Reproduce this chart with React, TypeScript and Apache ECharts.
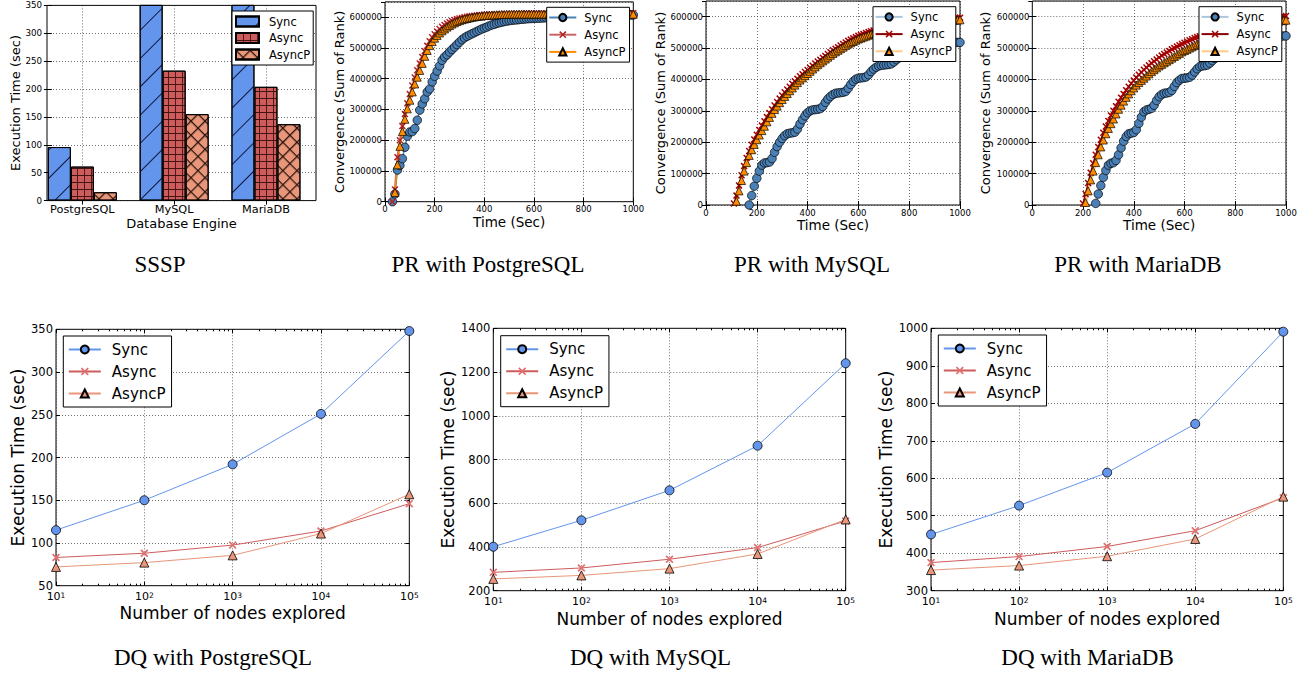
import React, { useEffect, useRef } from 'react';
import * as echarts from 'echarts';

const FONT = '"DejaVu Sans", sans-serif';
const SERIF = '"Liberation Serif", "Times New Roman", serif';

// ---------------- SSSP (bar chart) ----------------
const ssspCategories = ['PostgreSQL', 'MySQL', 'MariaDB'];
const ssspSync = [96, 425, 385];
const ssspAsync = [61, 233, 204];
const ssspAsyncP = [15, 155, 137];

// ---------------- PR convergence (time in sec, sum of rank) ----------------
const prTime = [
  0, 10, 20, 30, 40, 50, 60, 70, 80, 90,
  100, 110, 120, 130, 140, 150, 160, 170, 180, 190,
  200, 210, 220, 230, 240, 250, 260, 270, 280, 290,
  300, 310, 320, 330, 340, 350, 360, 370, 380, 390,
  400, 410, 420, 430, 440, 450, 460, 470, 480, 490,
  500, 510, 520, 530, 540, 550, 560, 570, 580, 590,
  600, 610, 620, 630, 640, 650, 660, 670, 680, 690,
  700, 710, 720, 730, 740, 750, 760, 770, 780, 790,
  800, 810, 820, 830, 840, 850, 860, 870, 880, 890,
  900, 910, 920, 930, 940, 950, 960, 970, 980, 990,
  1000,
];

const prPgSync = [
  null, null, null, 0, 25000, 103000, 118000, 140000, 177000, 213000,
  227000, 228000, 238000, 265000, 298000, 318000, 335000, 357000, 367000, 390000,
  408000, 425000, 442000, 460000, 471000, 478000, 487000, 495000, 503000, 511000,
  519000, 527000, 533000, 538000, 542000, 546000, 550000, 554000, 558000, 562000,
  565000, 568000, 572000, 575000, 577000, 580000, 582000, 584000, 586000, 587500,
  589000, 590000, 591000, 591500, 592500, 593500, 594000, 595000, 595500, 596000,
  596500, 597000, 597000, 597500, 598000, 598500, 599000, 599000, 599500, 600000,
  600000, 600500, 601000, 601500, 602000, 602000, 602500, 603000, 603000, 603500,
  603500, 604000, 604000, 604500, 604500, 605000, 605000, 605500, 605500, 606000,
  606000, 606000, 606500, 606500, 607000, 607000, 607000, 607500, 607500, 607500,
  607500,
];
const prPgAsync = [
  null, null, null, 0, 40000, 145000, 200000, 246000, 285000, 320000,
  350000, 378000, 404000, 428000, 450000, 471000, 490000, 507000, 522000, 535000,
  545000, 554000, 562000, 569000, 575000, 580000, 584000, 588000, 591000, 594000,
  596000, 598000, 600000, 601500, 603000, 604000, 605000, 606000, 607000, 607500,
  608000, 608500, 609000, 609000, 609500, 609500, 610000, 610000, 610500, 610500,
  611000, 611000, 611000, 611500, 611500, 611500, 612000, 612000, 612000, 612000,
  612000, 612500, 612500, 612500, 612500, 612500, 612500, 613000, 613000, 613000,
  613000, 613000, 613000, 613000, 613000, 613000, 613000, 613000, 613000, 613000,
  613000, 613000, 613000, 613000, 613000, 613000, 613000, 613000, 613000, 613000,
  613000, 613000, 613000, 613000, 613000, 613000, 613000, 613000, 613000, 613000,
  613000,
];
const prPgAsyncP = [
  null, null, null, null, 30000, 120000, 180000, 228000, 268000, 302000,
  330000, 357000, 383000, 405000, 427000, 450000, 473000, 492000, 508000, 521000,
  532000, 541000, 549000, 556000, 562000, 568000, 573000, 578000, 582000, 586000,
  589000, 592000, 594000, 596000, 598000, 600000, 601000, 602500, 603500, 604500,
  605500, 606000, 606500, 607000, 607500, 608000, 608500, 609000, 609000, 609500,
  609500, 610000, 610000, 610000, 610000, 610000, 610000, 610000, 610000, 610000,
  610000, 610000, 610000, 610000, 610000, 610000, 610000, 610000, 610000, 610000,
  610000, 610000, 610000, 610000, 610000, 610000, 610000, 610000, 610000, 610000,
  610000, 610000, 610000, 610000, 610000, 610000, 610000, 610000, 610000, 610000,
  610000, 610000, 610000, 610000, 610000, 610000, 610000, 610000, 610000, 610000,
  610000,
];

const prMySync = [
  null, null, null, null, null, null, null, null, null, null,
  null, null, null, null, null, null, null, 0, 30000, 60000,
  85000, 108000, 127000, 134000, 135000, 137000, 148000, 168000, 186000, 200000,
  212000, 221000, 227000, 229000, 230000, 232000, 242000, 258000, 272000, 284000,
  294000, 300000, 303000, 304000, 305000, 307000, 314000, 327000, 338000, 346000,
  352000, 356000, 357000, 358000, 359000, 362000, 372000, 384000, 394000, 401000,
  404000, 405000, 406000, 408000, 415000, 425000, 433000, 439000, 443000, 445000,
  446000, 447000, 448000, 450000, 456000, 463000, 469000, 474000, 477000, 479000,
  480000, 481000, 483000, 488000, 494000, 499000, 503000, 506000, 507000, 508000,
  509000, 510000, 511000, 513000, 515000, 516000, 517000, 517500, 518000, 518000,
  518000,
];
const prMyAsync = [
  null, null, null, null, null, null, null, null, null, null,
  null, 5000, 30000, 62000, 95000, 124000, 150000, 172000, 192000, 209000,
  224000, 239000, 253000, 267000, 280000, 293000, 305000, 317000, 328000, 339000,
  349000, 359000, 368000, 377000, 386000, 394000, 402000, 410000, 417000, 424000,
  430000, 437000, 444000, 451000, 457000, 463000, 469000, 475000, 481000, 487000,
  493000, 498000, 503000, 508000, 513000, 518000, 523000, 527000, 531000, 535000,
  539000, 542000, 545000, 548000, 551000, 553500, 556000, 558000, 560000, 562000,
  564000, 566000, 568000, 570000, 571500, 573000, 574500, 576000, 577500, 579000,
  580000, 581000, 582000, 583000, 584000, 585000, 586000, 587000, 588000, 589000,
  590000, 590500, 591000, 592000, 593000, 594000, 595000, 595500, 596000, 596500,
  597000,
];
const prMyAsyncP = [
  null, null, null, null, null, null, null, null, null, null,
  null, null, 12000, 45000, 78000, 108000, 135000, 158000, 176000, 193000,
  208000, 223000, 237000, 251000, 265000, 279000, 292000, 304000, 315000, 326000,
  336000, 346000, 355000, 364000, 373000, 382000, 390000, 398000, 405000, 412000,
  419000, 426000, 433000, 440000, 447000, 453000, 459000, 465000, 471000, 477000,
  483000, 488000, 493000, 498000, 503000, 508000, 513000, 517000, 521000, 525000,
  529000, 532000, 535000, 538000, 541000, 544000, 546000, 548000, 550000, 552000,
  554000, 556000, 558000, 560000, 562000, 563500, 565000, 566500, 568000, 569500,
  571000, 572000, 573500, 575000, 576000, 577000, 578500, 579500, 580500, 581500,
  582500, 583500, 584500, 585500, 586000, 587000, 588000, 588500, 589000, 589500,
  590000,
];

const prMaSync = [
  null, null, null, null, null, null, null, null, null, null,
  null, null, null, null, null, null, null, null, null, null,
  null, null, null, null, null, 5000, 35000, 62000, 88000, 110000,
  127000, 133000, 135000, 142000, 160000, 182000, 203000, 218000, 227000, 229000,
  231000, 240000, 260000, 280000, 297000, 303000, 305000, 308000, 318000, 333000,
  345000, 352000, 356000, 357000, 359000, 365000, 378000, 390000, 398000, 403000,
  404000, 405000, 407000, 414000, 424000, 434000, 441000, 443000, 444000, 446000,
  452000, 460000, 467000, 472000, 475000, 477000, 479000, 484000, 490000, 495000,
  499000, 502000, 504000, 506000, 510000, 515000, 519000, 522000, 524000, 525000,
  527000, 530000, 533000, 535000, 536000, 537000, 537500, 538000, 538000, 538500,
  539000,
];
const prMaAsync = [
  null, null, null, null, null, null, null, null, null, null,
  null, null, null, null, null, null, null, null, null, null,
  5000, 35000, 70000, 103000, 133000, 160000, 185000, 208000, 230000, 250000,
  268000, 285000, 300000, 315000, 329000, 342000, 354000, 366000, 377000, 387000,
  397000, 406000, 415000, 423000, 431000, 438000, 445000, 452000, 458000, 464000,
  470000, 476000, 481000, 486000, 491000, 496000, 500000, 505000, 509000, 513000,
  517000, 521000, 525000, 528000, 532000, 535000, 538000, 541000, 544000, 547000,
  550000, 552500, 555000, 557500, 560000, 562000, 564000, 566000, 568000, 570000,
  572000, 574000, 576000, 577500, 579000, 580500, 582000, 583500, 585000, 586500,
  588000, 589500, 591000, 592500, 594000, 595500, 597000, 598500, 600000, 601000,
  602000,
];
const prMaAsyncP = [
  null, null, null, null, null, null, null, null, null, null,
  null, null, null, null, null, null, null, null, null, null,
  null, 8000, 45000, 80000, 108000, 135000, 160000, 185000, 207000, 227000,
  244000, 259000, 274000, 290000, 305000, 318000, 331000, 343000, 354000, 364000,
  373000, 382000, 390000, 397000, 404000, 411000, 418000, 425000, 431000, 437000,
  443000, 448000, 453000, 458000, 463000, 468000, 473000, 478000, 483000, 488000,
  492000, 496000, 500000, 504000, 508000, 512000, 516000, 519000, 522000, 525000,
  528000, 531000, 534000, 537000, 540000, 543000, 546000, 548500, 551000, 553500,
  556000, 558000, 560000, 562000, 564000, 566000, 568000, 570000, 572000, 574000,
  576000, 577500, 579000, 580500, 582000, 583500, 585000, 586000, 587000, 588000,
  589000,
];

// ---------------- DQ (nodes explored vs execution time) ----------------
const dqNodes = [10, 100, 1000, 10000, 100000];
const dqMinorTicks = [
  20, 30, 40, 50, 60, 70, 80, 90,
  200, 300, 400, 500, 600, 700, 800, 900,
  2000, 3000, 4000, 5000, 6000, 7000, 8000, 9000,
  20000, 30000, 40000, 50000, 60000, 70000, 80000, 90000,
];
const dqPgSync = [115, 150, 192, 251, 348];
const dqPgAsync = [83, 88, 97.5, 114, 146];
const dqPgAsyncP = [72, 77, 85.5, 111, 157];
const dqMySync = [401, 522, 659, 863, 1240];
const dqMyAsync = [284, 304, 344, 397, 519];
const dqMyAsyncP = [254, 270, 301, 368, 526];
const dqMaSync = [450, 527, 615, 745, 991];
const dqMaAsync = [375, 391, 418, 460, 548];
const dqMaAsyncP = [355, 367, 392, 438, 551];

const captions = [
  'SSSP', 'PR with PostgreSQL', 'PR with MySQL', 'PR with MariaDB',
  'DQ with PostgreSQL', 'DQ with MySQL', 'DQ with MariaDB',
];

// ---------------- layout ----------------
const gridRects = [
  { left: 47, top: 5.4, width: 269, height: 195.2 },
  { left: 385, top: 1.9, width: 248.3, height: 199.8 },
  { left: 706, top: 1, width: 254, height: 204 },
  { left: 1032.3, top: 1, width: 253.7, height: 204 },
  { left: 56, top: 329.3, width: 353.3, height: 256.4 },
  { left: 493.3, top: 328.3, width: 352.4, height: 262.4 },
  { left: 931, top: 328.3, width: 352.3, height: 262.4 },
];
const captionPos = [
  [160, 264], [488, 264], [812, 264], [1138, 264],
  [213, 657.5], [650.5, 657.5], [1087.5, 657.5],
];

const X_MARK = 'path://M0,1.5L1.5,0L5,3.5L8.5,0L10,1.5L6.5,5L10,8.5L8.5,10L5,6.5L1.5,10L0,8.5L3.5,5Z';
const GRID_CELL = 'path://M0,0H10V1.3H1.3V10H0Z';

const gridLine = { show: true, lineStyle: { color: '#333', width: 0.7, type: [1, 2] } };
const hidden = { show: false };
const plainNum = (v: number) => String(v);

function tick(len: number, extra: any = {}) {
  return { show: true, inside: true, length: len, lineStyle: { color: '#000', width: 1 }, ...extra };
}
function label(size: number, margin: number, extra: any = {}) {
  return { show: true, color: '#000', fontFamily: FONT, fontSize: size, margin, ...extra };
}
function nameStyle(size: number) {
  return { color: '#000', fontFamily: FONT, fontSize: size };
}
function splitName(n: string) {
  return n.split('#')[0];
}

function buildOption() {
  const grid: any[] = [];
  const xAxis: any[] = [];
  const yAxis: any[] = [];
  const series: any[] = [];
  const legend: any[] = [];

  const addGrid = (r: any) => {
    grid.push({ ...r, show: true, borderColor: '#000', borderWidth: 1, backgroundColor: 'transparent' });
    return grid.length - 1;
  };
  const addX = (o: any) => { xAxis.push(o); return xAxis.length - 1; };
  const addY = (o: any) => { yAxis.push(o); return yAxis.length - 1; };

  // ---------- SSSP ----------
  {
    const g = addGrid(gridRects[0]);
    const pos = ssspCategories.map((_, i) => i + 0.375);
    const sx = addX({
      gridIndex: g, type: 'value', min: -0.01, max: 2.92, position: 'bottom',
      axisLine: hidden, axisTick: tick(4, { customValues: pos }),
      axisLabel: label(11.3, 3, { customValues: pos, formatter: (v: number) => ssspCategories[Math.round(v - 0.375)] }),
      splitLine: gridLine,
      name: 'Database Engine', nameLocation: 'middle', nameGap: 16, nameTextStyle: nameStyle(13),
    });
    addX({
      gridIndex: g, type: 'value', min: -0.01, max: 2.92, position: 'top',
      axisLine: hidden, axisTick: tick(4, { customValues: pos }), axisLabel: hidden, splitLine: hidden,
    });
    const sy = addY({
      gridIndex: g, type: 'value', min: 0, max: 350, interval: 50, position: 'left',
      axisLine: hidden, axisTick: tick(4), axisLabel: label(8.7, 5, { formatter: plainNum }), splitLine: gridLine,
      name: 'Execution Time (sec)', nameLocation: 'middle', nameGap: 25.5, nameTextStyle: nameStyle(13),
    });
    addY({
      gridIndex: g, type: 'value', min: 0, max: 350, interval: 50, position: 'right',
      axisLine: hidden, axisTick: tick(4), axisLabel: hidden, splitLine: hidden,
    });
    const defs = [
      { key: 'Sync', vals: ssspSync, color: '#6495ed',
        decal: { symbol: 'rect', dashArrayX: [1, 0], dashArrayY: [1, 19], rotation: -Math.PI / 4, color: 'rgba(0,0,30,0.85)' } },
      { key: 'Async', vals: ssspAsync, color: '#cd5c5c',
        decal: { symbol: GRID_CELL, symbolSize: 1, symbolKeepAspect: false, dashArrayX: [7, 0], dashArrayY: [7, 0], color: 'rgba(45,5,5,0.85)' } },
      { key: 'AsyncP', vals: ssspAsyncP, color: '#e9967a',
        decal: { symbol: GRID_CELL, symbolSize: 1, symbolKeepAspect: false, dashArrayX: [10, 0], dashArrayY: [10, 0], rotation: Math.PI / 4, color: 'rgba(20,5,0,0.9)' } },
    ];
    defs.forEach((d) => {
      series.push({
        type: 'bar', name: d.key + '#0', xAxisIndex: sx, yAxisIndex: sy,
        data: pos.map((p, i) => [p, d.vals[i]]),
        barWidth: 23, barGap: '0%', clip: true, silent: true,
        itemStyle: { color: d.color, borderColor: '#000', borderWidth: 1, decal: d.decal },
      });
    });
    legend.push({
      orient: 'vertical', left: 232, top: 11, icon: 'rect',
      data: defs.map((d) => d.key + '#0'), formatter: splitName,
      itemWidth: 23, itemHeight: 10, itemGap: 4.5, padding: [4.5, 3, 4.5, 3],
      backgroundColor: '#fff', borderColor: '#000', borderWidth: 1, borderRadius: 0,
      textStyle: { color: '#000', fontFamily: FONT, fontSize: 11.5, padding: [0, 0, 0, 5] },
      selectedMode: false,
    });
  }

  // ---------- PR panels ----------
  const prPanels = [
    { gi: 1, tag: '#1', sync: prPgSync, async: prPgAsync, asyncp: prPgAsyncP, yGap: 38.5, legendPos: [546.7, 7.3], light: false },
    { gi: 2, tag: '#2', sync: prMySync, async: prMyAsync, asyncp: prMyAsyncP, yGap: 39.5, legendPos: [873, 6.7], light: true },
    { gi: 3, tag: '#3', sync: prMaSync, async: prMaAsync, asyncp: prMaAsyncP, yGap: 40.8, legendPos: [1199, 6.7], light: true },
  ];
  prPanels.forEach((p) => {
    const g = addGrid(gridRects[p.gi]);
    const px = addX({
      gridIndex: g, type: 'value', min: 0, max: 1000, interval: 200, position: 'bottom',
      axisLine: hidden, axisTick: tick(4), axisLabel: label(8.5, 3, { formatter: plainNum }), splitLine: gridLine,
      name: 'Time (Sec)', nameLocation: 'middle', nameGap: 13.3, nameTextStyle: nameStyle(13.5),
    });
    addX({
      gridIndex: g, type: 'value', min: 0, max: 1000, interval: 200, position: 'top',
      axisLine: hidden, axisTick: tick(4), axisLabel: hidden, splitLine: hidden,
    });
    const py = addY({
      gridIndex: g, type: 'value', min: 0, max: 650000, interval: 100000, position: 'left',
      axisLine: hidden, axisTick: tick(4), axisLabel: label(8.5, 3, { showMaxLabel: false, formatter: plainNum }), splitLine: gridLine,
      name: 'Convergence (Sum of Rank)', nameLocation: 'middle', nameGap: p.yGap, nameTextStyle: nameStyle(13),
    });
    addY({
      gridIndex: g, type: 'value', min: 0, max: 650000, interval: 100000, position: 'right',
      axisLine: hidden, axisTick: tick(4), axisLabel: hidden, splitLine: hidden,
    });
    const defs = [
      { key: 'Sync', vals: p.sync, symbol: 'circle', size: 8.5, fill: '#4a80b6', border: '#000',
        line: p.light ? { color: 'rgba(70,130,180,0.45)', width: 3 } : { color: '#4682b4', width: 1.5 } },
      { key: 'Async', vals: p.async, symbol: X_MARK, size: 7, fill: p.light ? '#a40000' : '#b22222', border: 'transparent',
        line: p.light ? { color: '#8b0000', width: 1.5 } : { color: 'rgba(178,34,34,0.7)', width: 2 } },
      { key: 'AsyncP', vals: p.asyncp, symbol: 'triangle', size: 8, fill: '#ff8c00', border: '#000',
        line: p.light ? { color: 'rgba(255,140,0,0.45)', width: 3 } : { color: '#ff8c00', width: 1.5 } },
    ];
    defs.forEach((d) => {
      const data: any[] = [];
      prTime.forEach((t, i) => { if (d.vals[i] !== null) data.push([t, d.vals[i]]); });
      series.push({
        type: 'line', name: d.key + p.tag, xAxisIndex: px, yAxisIndex: py, data,
        symbol: d.symbol, symbolSize: d.size, showSymbol: true, clip: true, silent: true,
        lineStyle: d.line,
        itemStyle: { color: d.fill, borderColor: d.border, borderWidth: 0.7, opacity: 1 },
      });
    });
    legend.push({
      orient: 'vertical', left: p.legendPos[0], top: p.legendPos[1],
      data: defs.map((d) => d.key + p.tag), formatter: splitName,
      itemWidth: 27, itemHeight: 9, itemGap: 5.2, padding: [4.2, 4, 4.2, 1.6],
      backgroundColor: '#fff', borderColor: '#000', borderWidth: 1, borderRadius: 0,
      textStyle: { color: '#000', fontFamily: FONT, fontSize: 11.5, padding: [0, 0, 0, 3] },
      selectedMode: false,
    });
  });

  // ---------- DQ panels ----------
  const dqPanels = [
    { gi: 4, tag: '#4', sync: dqPgSync, async: dqPgAsync, asyncp: dqPgAsyncP, yMin: 50, yMax: 350, yInt: 50, yGap: 29.5, xGap: 18.8, legendPos: [63.3, 336] },
    { gi: 5, tag: '#5', sync: dqMySync, async: dqMyAsync, asyncp: dqMyAsyncP, yMin: 200, yMax: 1400, yInt: 200, yGap: 36.5, xGap: 19.8, legendPos: [500.7, 335.7] },
    { gi: 6, tag: '#6', sync: dqMaSync, async: dqMaAsync, asyncp: dqMaAsyncP, yMin: 300, yMax: 1000, yInt: 100, yGap: 36.5, xGap: 19.8, legendPos: [938.3, 335] },
  ];
  dqPanels.forEach((p) => {
    const g = addGrid(gridRects[p.gi]);
    const logBase = { type: 'log', logBase: 10, min: dqNodes[0], max: dqNodes[dqNodes.length - 1] };
    const dx = addX({
      gridIndex: g, ...logBase, position: 'bottom',
      axisLine: hidden, axisTick: tick(4), splitLine: gridLine,
      axisLabel: {
        show: true, margin: 5.5, color: '#000', fontFamily: FONT,
        formatter: (v: number) => `{b|10}{s|${Math.round(Math.log10(v))}}`,
        rich: {
          b: { fontSize: 11, fontFamily: FONT, color: '#000' },
          s: { fontSize: 7.5, fontFamily: FONT, color: '#000', verticalAlign: 'top' },
        },
      },
      name: 'Number of nodes explored', nameLocation: 'middle', nameGap: p.xGap, nameTextStyle: nameStyle(17),
    });
    addX({ gridIndex: g, ...logBase, position: 'top', axisLine: hidden, axisTick: tick(4), axisLabel: hidden, splitLine: hidden });
    addX({ gridIndex: g, ...logBase, position: 'bottom', axisLine: hidden, axisTick: tick(2, { customValues: dqMinorTicks }), axisLabel: hidden, splitLine: hidden });
    addX({ gridIndex: g, ...logBase, position: 'top', axisLine: hidden, axisTick: tick(2, { customValues: dqMinorTicks }), axisLabel: hidden, splitLine: hidden });
    const dy = addY({
      gridIndex: g, type: 'value', min: p.yMin, max: p.yMax, interval: p.yInt, position: 'left',
      axisLine: hidden, axisTick: tick(4), axisLabel: label(11.5, 3, { formatter: plainNum }), splitLine: gridLine,
      name: 'Execution Time (sec)', nameLocation: 'middle', nameGap: p.yGap, nameTextStyle: nameStyle(17),
    });
    addY({
      gridIndex: g, type: 'value', min: p.yMin, max: p.yMax, interval: p.yInt, position: 'right',
      axisLine: hidden, axisTick: tick(4), axisLabel: hidden, splitLine: hidden,
    });
    const defs = [
      { key: 'Sync', vals: p.sync, symbol: 'circle', size: 9, fill: '#6495ed', border: '#000', line: '#6495ed' },
      { key: 'Async', vals: p.async, symbol: X_MARK, size: 8, fill: '#e07070', border: 'transparent', line: '#cd5c5c' },
      { key: 'AsyncP', vals: p.asyncp, symbol: 'triangle', size: 9, fill: '#e9967a', border: '#000', line: '#e9967a' },
    ];
    defs.forEach((d) => {
      series.push({
        type: 'line', name: d.key + p.tag, xAxisIndex: dx, yAxisIndex: dy,
        data: dqNodes.map((n, i) => [n, d.vals[i]]),
        symbol: d.symbol, symbolSize: d.size, showSymbol: true, clip: false, silent: true,
        lineStyle: { color: d.line, width: 1 },
        itemStyle: { color: d.fill, borderColor: d.border, borderWidth: 0.8 },
      });
    });
    legend.push({
      orient: 'vertical', left: p.legendPos[0], top: p.legendPos[1],
      data: defs.map((d) => d.key + p.tag), formatter: splitName,
      itemWidth: 32, itemHeight: 10, itemGap: 7, padding: [6, 6, 6, 4.5],
      backgroundColor: '#fff', borderColor: '#000', borderWidth: 1, borderRadius: 0,
      textStyle: { color: '#000', fontFamily: FONT, fontSize: 15, padding: [0, 0, 0, 6] },
      selectedMode: false,
    });
  });

  const graphic = captions.map((c, i) => ({
    type: 'text', x: captionPos[i][0], y: captionPos[i][1], silent: true,
    style: {
      text: c, font: `23px ${SERIF}`, fill: '#000',
      textAlign: 'center', textVerticalAlign: 'middle', align: 'center', verticalAlign: 'middle',
    },
  }));

  return {
    animation: false,
    backgroundColor: '#fff',
    textStyle: { fontFamily: FONT },
    grid, xAxis, yAxis, series, legend, graphic,
  };
}

export default function App() {
  const ref = useRef<HTMLDivElement>(null);
  useEffect(() => {
    const chart = echarts.init(ref.current!, null, { renderer: 'svg' });
    chart.setOption(buildOption() as any);
    return () => chart.dispose();
  }, []);
  return (
    <div
      ref={ref}
      style={{ position: 'fixed', left: 0, top: 0, width: 1307, height: 676, background: '#fff' }}
    />
  );
}
